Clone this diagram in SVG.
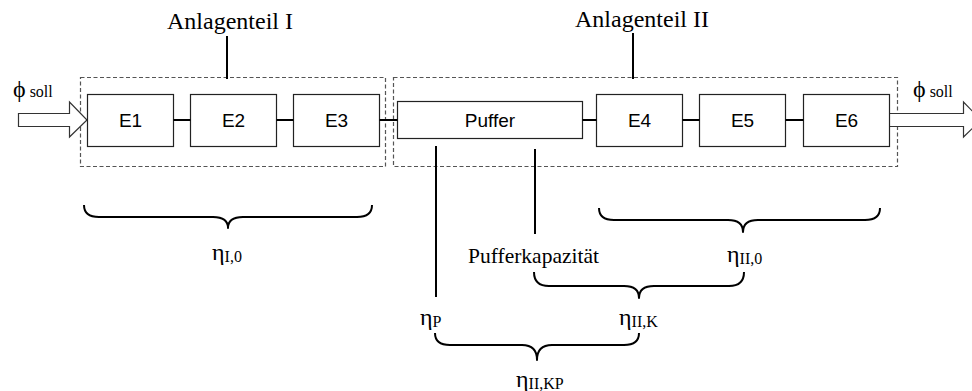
<svg xmlns="http://www.w3.org/2000/svg" width="972" height="391" viewBox="0 0 972 391">
<style>
.bg{fill:#fff}
.box{fill:#fff;stroke:#222;stroke-width:1.2}
.dash{fill:none;stroke:#555;stroke-width:1.2;stroke-dasharray:4 2.5}
.ln{stroke:#000;stroke-width:2;fill:none}
.brace{stroke:#000;stroke-width:2;fill:none;stroke-linejoin:round}
.arrow{fill:#fff;stroke:#333;stroke-width:1.2;stroke-linejoin:miter}
.sans{font-family:"Liberation Sans",Arial,sans-serif;font-size:19px;fill:#000}
.serif{font-family:"Liberation Serif","Times New Roman",serif;font-size:24px;fill:#000}
.sub{font-size:16px}
</style>
<rect class="bg" x="0" y="0" width="972" height="391"/>
<g id="anlagenteil-1">
<rect class="dash" x="80.5" y="77.5" width="305" height="89"/>
<text class="serif" x="167" y="29">Anlagenteil I</text>
</g>
<g id="anlagenteil-2">
<rect class="dash" x="393.5" y="77.5" width="504" height="89"/>
<text class="serif" x="575" y="27">Anlagenteil II</text>
</g>
<g id="input">
<path class="arrow" d="M18.5,113.5 H69.5 V102 L87,120 L69.5,137 V126.5 H18.5 Z"/>
<text class="serif" x="13" y="97">ϕ<tspan class="sub" dx="4">soll</tspan></text>
</g>
<g id="output">
<path class="arrow" d="M889,113.5 H963.5 V102 L981,120 L963.5,137 V126.5 H889"/>
<text class="serif" x="913" y="97">ϕ<tspan class="sub" dx="4">soll</tspan></text>
</g>
<g id="E1"><rect class="box" x="87.5" y="94.5" width="86" height="52"/><text class="sans" x="130.5" y="127" text-anchor="middle">E1</text></g>
<g id="E2"><rect class="box" x="190.5" y="94.5" width="86" height="52"/><text class="sans" x="233.5" y="127" text-anchor="middle">E2</text></g>
<g id="E3"><rect class="box" x="293.5" y="94.5" width="86" height="52"/><text class="sans" x="336.5" y="127" text-anchor="middle">E3</text></g>
<g id="puffer"><rect class="box" x="397.5" y="101.5" width="185" height="37"/><text class="sans" x="490" y="127" text-anchor="middle">Puffer</text></g>
<g id="E4"><rect class="box" x="596.5" y="94.5" width="86" height="52"/><text class="sans" x="639.5" y="127" text-anchor="middle">E4</text></g>
<g id="E5"><rect class="box" x="699.5" y="94.5" width="86" height="52"/><text class="sans" x="742.5" y="127" text-anchor="middle">E5</text></g>
<g id="E6"><rect class="box" x="803.5" y="94.5" width="86" height="52"/><text class="sans" x="846.5" y="127" text-anchor="middle">E6</text></g>
<g id="connectors">
<path class="ln" d="M173.5,120 H190.5 M276.5,120 H293.5 M379.5,120 H397.5 M582.5,120 H596.5 M682.5,120 H699.5 M785.5,120 H803.5"/>
<path class="ln" d="M227,36 V79 M633,33 V79"/>
<path class="ln" d="M436,146 V297 M535,149 V234"/>
</g>
<g id="brace-I0">
<path class="brace" d="M84,205 Q84,217 99,217 H213 Q228,217 228,228 Q228,217 243,217 H357 Q372,217 372,205"/>
<text class="serif" x="212" y="260">η<tspan class="sub" dy="2">I,0</tspan></text>
</g>
<g id="pufferkapazitaet">
<text class="serif" x="468" y="263" style="font-size:21.5px">Pufferkapazität</text>
</g>
<g id="brace-II0">
<path class="brace" d="M599,208 Q599,220 614,220 H728 Q743,220 743,232 Q743,220 758,220 H865 Q880,220 880,208"/>
<text class="serif" x="727" y="262">η<tspan class="sub" dy="2">II,0</tspan></text>
</g>
<g id="eta-P">
<text class="serif" x="420" y="325">η<tspan class="sub" dy="2">P</tspan></text>
</g>
<g id="brace-IIK">
<path class="brace" d="M534,272 Q534,286 549,286 H624 Q639,286 639,298 Q639,286 654,286 H729 Q744,286 744,272"/>
<text class="serif" x="619" y="325">η<tspan class="sub" dy="2">II,K</tspan></text>
</g>
<g id="brace-IIKP">
<path class="brace" d="M435,333 Q435,345 450,345 H522 Q537,345 537,360 Q537,345 552,345 H624 Q639,345 639,333"/>
<text class="serif" x="516" y="387">η<tspan class="sub" dy="2">II,KP</tspan></text>
</g>
</svg>
